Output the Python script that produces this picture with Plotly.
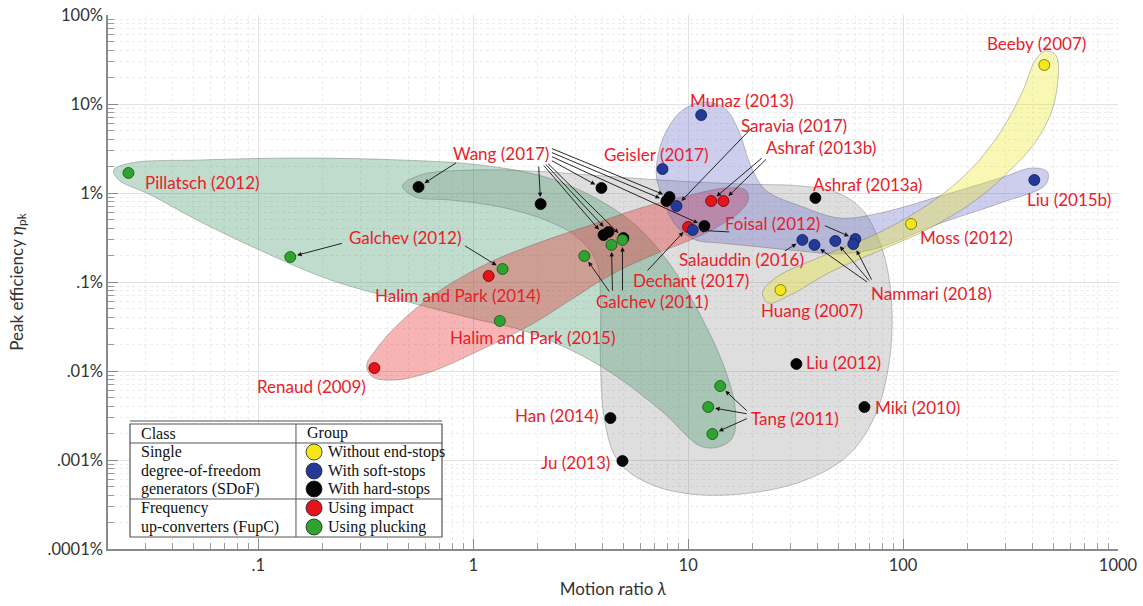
import numpy as np
import plotly.graph_objects as go

# ---------------- data: motion ratio (lambda) and peak efficiency (%) ----------------
yellow_x = [454, 109, 26.9]
yellow_y = [27.4, 0.449, 0.0813]

blue_x = [11.5, 7.60, 408, 34.0, 38.7, 48.4, 60.0, 58.7, 8.83, 10.5]
blue_y = [7.52, 1.86, 1.40, 0.297, 0.261, 0.289, 0.304, 0.267, 0.714, 0.384]

black_x = [0.557, 2.06, 3.95, 4.04, 4.26, 5.00, 8.19, 7.93, 11.9, 39.1, 31.9, 66.1, 4.35, 4.95]
black_y = [1.17, 0.752, 1.14, 0.337, 0.365, 0.312, 0.902, 0.813, 0.426, 0.879, 0.0120, 0.00394, 0.00296, 0.000975]

red_x = [0.347, 1.18, 12.8, 14.6, 10.0]
red_y = [0.0108, 0.117, 0.813, 0.813, 0.415]

green_x = [0.0249, 0.141, 1.37, 1.33, 3.29, 4.40, 4.95, 14.1, 12.4, 12.97]
green_y = [1.68, 0.191, 0.140, 0.0365, 0.196, 0.261, 0.297, 0.00678, 0.00394, 0.00196]

# group envelopes (log10 lambda, log10 efficiency %)
gray_lx = [-0.329, -0.245, -0.013, 0.267, 0.546, 0.871, 1.243, 1.522, 1.686, 1.811, 1.904, 1.946, 1.937,
           1.871, 1.746, 1.546, 1.290, 1.011, 0.801, 0.671, 0.611, 0.592, 0.592, 0.574, 0.490, 0.336,
           0.127, -0.106, -0.268]
gray_ly = [0.079, 0.202, 0.258, 0.247, 0.202, 0.146, 0.101, 0.079, 0.011, -0.191, -0.640, -1.202, -1.876,
           -2.494, -2.944, -3.225, -3.371, -3.382, -3.247, -3.0, -2.551, -1.876, -1.202, -0.775, -0.506,
           -0.303, -0.157, -0.079, -0.045]
green_lx = [-1.673, -1.594, -1.267, -0.803, -0.338, 0.034, 0.336, 0.569, 0.755, 0.908, 1.057, 1.173,
            1.220, 1.206, 1.141, 1.057, 0.871, 0.592, 0.267, -0.013, -0.338, -0.664, -0.943, -1.267,
            -1.500, -1.649]
green_ly = [0.258, 0.337, 0.371, 0.393, 0.371, 0.315, 0.180, -0.056, -0.360, -0.775, -1.371, -1.989,
            -2.438, -2.753, -2.854, -2.843, -2.438, -1.944, -1.573, -1.404, -1.202, -0.978, -0.697,
            -0.326, -0.022, 0.146]
red_lx = [-0.496, -0.454, -0.338, -0.152, 0.080, 0.313, 0.546, 0.778, 1.011, 1.174, 1.267, 1.280, 1.234,
          1.127, 1.011, 0.825, 0.639, 0.453, 0.267, 0.034, -0.199, -0.361, -0.468]
red_ly = [-1.944, -1.764, -1.449, -1.090, -0.775, -0.551, -0.360, -0.169, -0.022, 0.056, 0.034, -0.079,
          -0.225, -0.393, -0.528, -0.708, -0.921, -1.202, -1.483, -1.764, -2.011, -2.101, -2.067]
blue_lx = [0.852, 0.880, 0.964, 1.066, 1.169, 1.234, 1.290, 1.360, 1.522, 1.708, 1.894, 2.174, 2.453,
           2.602, 2.672, 2.662, 2.453, 2.150, 1.885, 1.708, 1.522, 1.336, 1.150, 1.034, 0.941, 0.880]
blue_ly = [0.202, 0.596, 0.910, 1.022, 0.955, 0.708, 0.315, 0.034, -0.146, -0.281, -0.225, -0.034, 0.169,
           0.281, 0.236, 0.090, -0.112, -0.360, -0.618, -0.685, -0.652, -0.607, -0.562, -0.528, -0.360,
           -0.034]
yellow_lx = [1.346, 1.406, 1.615, 1.894, 2.127, 2.313, 2.453, 2.555, 2.616, 2.662, 2.713, 2.718, 2.685,
             2.606, 2.499, 2.346, 2.127, 1.941, 1.662, 1.476, 1.374]
yellow_ly = [-1.124, -0.955, -0.719, -0.438, -0.112, 0.258, 0.685, 1.135, 1.494, 1.596, 1.539, 1.213,
             0.876, 0.539, 0.258, -0.067, -0.393, -0.596, -0.888, -1.146, -1.236]

x_ticks = [0.1, 1, 10, 100, 1000]
x_ticklabels = [".1", "1", "10", "100", "1000"]
y_ticks = [0.0001, 0.001, 0.01, 0.1, 1, 10, 100]
y_ticklabels = [".0001%", ".001%", ".01%", ".1%", "1%", "10%", "100%"]

legend_groups = ["Without end-stops", "With soft-stops", "With hard-stops", "Using impact", "Using plucking"]
legend_classes = ["Single", "degree-of-freedom", "generators (SDoF)", "Frequency", "up-converters (FupC)"]

series = {
    "yellow": (yellow_x, yellow_y),
    "blue": (blue_x, blue_y),
    "black": (black_x, black_y),
    "red": (red_x, red_y),
    "green": (green_x, green_y),
}
fill_col = {"yellow": "#f3e61b", "blue": "#233b97", "black": "#050505", "red": "#e3141c", "green": "#2fa32f"}
edge_col = {"yellow": "#6e6400", "blue": "#0c1a55", "black": "#000000", "red": "#6d0000", "green": "#145214"}

# labels: (text, series, index, dx px, dy px)
labels = [
    ("Beeby (2007)", "yellow", 0, -8, -22),
    ("Moss (2012)", "yellow", 1, 55, 14),
    ("Huang (2007)", "yellow", 2, 32, 20),
    ("Munaz (2013)", "blue", 0, 41, -15),
    ("Geisler (2017)", "blue", 1, -7, -15),
    ("Liu (2015b)", "blue", 2, 35, 20),
    ("Foisal (2012)", "blue", 6, -83, -16),
    ("Salauddin (2016)", "blue", 3, -61, 20),
    ("Nammari (2018)", "blue", 7, 78, 49),
    ("Saravia (2017)", "blue", 8, 117, -81),
    ("Wang (2017)", "black", 0, 82, -33),
    ("Ashraf (2013a)", "black", 9, 52, -13),
    ("Liu (2012)", "black", 10, 47, -1),
    ("Miki (2010)", "black", 11, 53, 0),
    ("Han (2014)", "black", 12, -53, -3),
    ("Ju (2013)", "black", 13, -47, 2),
    ("Renaud (2009)", "red", 0, -63, 18),
    ("Halim and Park (2014)", "red", 1, -31, 20),
    ("Ashraf (2013b)", "red", 3, 98, -54),
    ("Dechant (2017)", "red", 4, 3, 54),
    ("Pillatsch (2012)", "green", 0, 74, 10),
    ("Galchev (2012)", "green", 1, 115, -19),
    ("Halim and Park (2015)", "green", 3, 33, 17),
    ("Galchev (2011)", "green", 5, 41, 57),
    ("Tang (2011)", "green", 8, 87, 11),
]

# arrows: (series, index, tail offset x px, tail offset y px)
arrows = [
    ("black", 0, 39, -25), ("black", 1, -2, -39), ("black", 2, -51, -28), ("black", 3, -61, -71),
    ("black", 4, -64, -69), ("black", 5, -77, -76), ("black", 6, -119, -49), ("black", 7, -116, -49),
    ("black", 8, -154, -70),
    ("green", 4, 26, 37), ("green", 5, 1, 47), ("green", 6, 0, 52),
    ("green", 1, 53, -14), ("green", 2, -39, -24),
    ("blue", 8, 76, -79),
    ("red", 2, 52, -44), ("red", 3, 44, -43),
    ("red", 4, -42, 45),
    ("blue", 3, -19, 12),
    ("blue", 6, -32, -14), ("blue", 9, 38, 2),
    ("blue", 4, 54, 38), ("blue", 5, 35, 41), ("blue", 7, 19, 37),
    ("green", 7, 28, 26), ("green", 8, 40, 7), ("green", 9, 36, -16),
]

fig = go.Figure()


def add_blob(lx, ly, fill):
    lx = list(lx) + [lx[0]]
    ly = list(ly) + [ly[0]]
    fig.add_trace(go.Scatter(
        x=10 ** np.array(lx), y=10 ** np.array(ly), mode="lines", fill="toself", fillcolor=fill,
        line=dict(color="rgba(90,90,90,0.45)", width=0.8, shape="spline", smoothing=1.0),
        hoverinfo="skip", showlegend=False))


add_blob(gray_lx, gray_ly, "rgba(128,128,128,0.26)")
add_blob(green_lx, green_ly, "rgba(46,139,87,0.30)")
add_blob(red_lx, red_ly, "rgba(232,40,40,0.35)")
add_blob(blue_lx, blue_ly, "rgba(90,90,200,0.30)")
add_blob(yellow_lx, yellow_ly, "rgba(235,235,40,0.35)")

for key in ["black", "red", "blue", "yellow", "green"]:
    xs, ys = series[key]
    fig.add_trace(go.Scatter(
        x=xs, y=ys, mode="markers",
        marker=dict(size=11, color=fill_col[key], line=dict(color=edge_col[key], width=0.8)),
        hoverinfo="x+y", showlegend=False))

annotations = []
for txt, key, i, dx, dy in labels:
    xs, ys = series[key]
    annotations.append(dict(
        x=np.log10(xs[i]), y=np.log10(ys[i]), xref="x", yref="y", text=txt, showarrow=False,
        xshift=dx, yshift=-dy, font=dict(family="Lato", size=17, color="#e8202a"),
        xanchor="center", yanchor="middle"))

for key, i, ax, ay in arrows:
    xs, ys = series[key]
    annotations.append(dict(
        x=np.log10(xs[i]), y=np.log10(ys[i]), xref="x", yref="y", text="", showarrow=True,
        ax=ax, ay=ay, axref="pixel", ayref="pixel", arrowhead=2, arrowsize=1.0, arrowwidth=0.9,
        arrowcolor="#111", standoff=7))

# ---------------- legend table (paper coordinates) ----------------
L, R, T, B = 0.0218, 0.3307, 0.2341, 0.0225
XDIV = 0.1861
shapes = [
    dict(type="rect", xref="paper", yref="paper", x0=L, x1=R, y0=B, y1=T,
         fillcolor="white", line=dict(color="#555", width=1.2), layer="above"),
    dict(type="line", xref="paper", yref="paper", x0=L, x1=R, y0=0.2397, y1=0.2397,
         line=dict(color="#555", width=1.2), layer="above"),
    dict(type="line", xref="paper", yref="paper", x0=L, x1=R, y0=0.1985, y1=0.1985,
         line=dict(color="#555", width=1), layer="above"),
    dict(type="line", xref="paper", yref="paper", x0=L, x1=R, y0=0.0936, y1=0.0936,
         line=dict(color="#555", width=1), layer="above"),
    dict(type="line", xref="paper", yref="paper", x0=XDIV, x1=XDIV, y0=B, y1=T,
         line=dict(color="#555", width=1), layer="above"),
]
row_y = [0.1816, 0.1461, 0.1124, 0.0768, 0.0412]
leg_keys = ["yellow", "blue", "black", "red", "green"]
serif = dict(family="Liberation Serif", size=16, color="#111")
annotations.append(dict(x=0.0307, y=0.2172, xref="paper", yref="paper", text="Class", showarrow=False,
                        xanchor="left", yanchor="middle", font=serif))
annotations.append(dict(x=0.1950, y=0.2172, xref="paper", yref="paper", text="Group", showarrow=False,
                        xanchor="left", yanchor="middle", font=serif))
for yy, ctext, gtext, key in zip(row_y, legend_classes, legend_groups, leg_keys):
    annotations.append(dict(x=0.0307, y=yy, xref="paper", yref="paper", text=ctext, showarrow=False,
                            xanchor="left", yanchor="middle", font=serif))
    annotations.append(dict(x=0.2158, y=yy, xref="paper", yref="paper", text=gtext, showarrow=False,
                            xanchor="left", yanchor="middle", font=serif))
    shapes.append(dict(type="circle", xref="paper", yref="paper", xsizemode="pixel", ysizemode="pixel",
                       xanchor=0.2040, yanchor=yy, x0=-8, x1=8, y0=-8, y1=8,
                       fillcolor=fill_col[key], line=dict(color="#222", width=0.8), layer="above"))

minor_x = [m * 10 ** e for e in range(-2, 3) for m in range(2, 10) if m * 10 ** e > 0.02]
minor_y = [m * 10.0 ** e for e in range(-4, 2) for m in range(2, 10)]

tickfont = dict(family="Lato", size=16.5, color="#333")
titlefont = dict(family="Lato", size=17, color="#333")

fig.update_xaxes(
    type="log", range=[np.log10(0.02), 3], tickvals=x_ticks, ticktext=x_ticklabels,
    ticks="inside", ticklen=10, tickcolor="#888", tickwidth=1, automargin=False,
    ticklabeloverflow="allow",
    showgrid=True, gridcolor="#e2e2e2", gridwidth=1,
    showline=True, linecolor="#8a8a8a", linewidth=1.5,
    minor=dict(tickvals=minor_x, ticks="inside", ticklen=6, tickcolor="#999", showgrid=True,
               gridcolor="#ececec", griddash="dot", gridwidth=1),
    tickfont=tickfont, title=dict(text="Motion ratio <i>λ</i>", font=titlefont, standoff=10))
fig.update_yaxes(
    type="log", range=[-4, 2], tickvals=y_ticks, ticktext=y_ticklabels,
    ticks="inside", ticklen=10, tickcolor="#888", tickwidth=1, automargin=False,
    ticklabeloverflow="allow",
    showgrid=True, gridcolor="#e2e2e2", gridwidth=1,
    showline=True, linecolor="#8a8a8a", linewidth=1.5,
    minor=dict(tickvals=minor_y, ticks="inside", ticklen=6, tickcolor="#999", showgrid=True,
               gridcolor="#ececec", griddash="dot", gridwidth=1),
    tickfont=tickfont, title=dict(text="Peak efficiency <i>η</i><sub>pk</sub>", font=titlefont, standoff=20))

fig.update_layout(
    width=1143, height=606, margin=dict(l=108, r=25, t=15, b=57),
    plot_bgcolor="white", paper_bgcolor="white",
    annotations=annotations, shapes=shapes, showlegend=False)

# remove the default 8 px page margin so the figure fills the window exactly
fig.write_html("out.html", config={"displayModeBar": False},
               post_script="document.body.style.margin='0';")
